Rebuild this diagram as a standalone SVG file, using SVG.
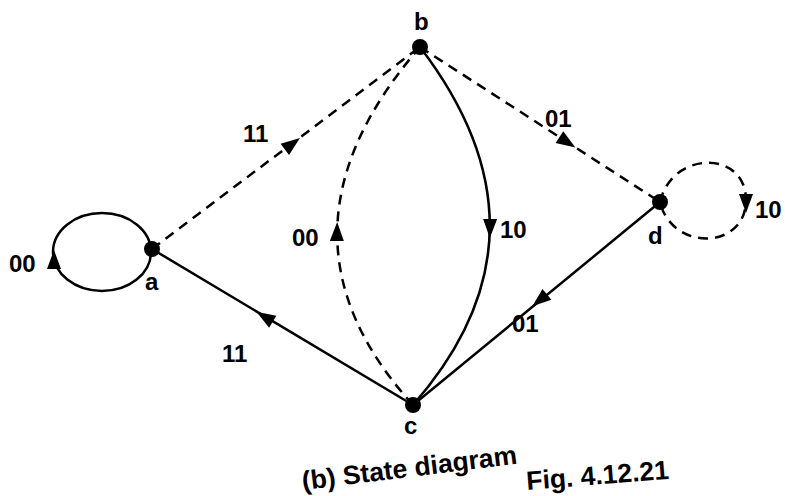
<svg xmlns="http://www.w3.org/2000/svg" width="785" height="496" viewBox="0 0 785 496">
<style>
.e{fill:none;stroke:#000;stroke-width:2.5}
.d{stroke-dasharray:10 7}
.n{fill:#000}
text{font-family:"Liberation Sans",Arial,sans-serif;fill:#000;font-weight:bold}
.l{font-size:24px}
.c{font-size:26.5px}
</style>
<defs>
<path id="ah" d="M10,0 L-9,-7 L-9,7 Z" fill="#000"/>
</defs>
<rect width="785" height="496" fill="#fff"/>
<g id="connectors">
<ellipse class="e" cx="102" cy="252" rx="49" ry="39"/>
<use href="#ah" transform="translate(54,260) rotate(-90)"/>
<line class="e d" x1="152" y1="249" x2="420" y2="47"/>
<use href="#ah" transform="translate(292,144) rotate(-37)"/>
<line class="e" x1="413" y1="405" x2="152" y2="249"/>
<use href="#ah" transform="translate(265,317) rotate(-149)"/>
<line class="e d" x1="420" y1="47" x2="660" y2="202"/>
<use href="#ah" transform="translate(567,142) rotate(33)"/>
<line class="e" x1="660" y1="202" x2="413" y2="405"/>
<use href="#ah" transform="translate(540,300) rotate(140.6)"/>
<path class="e" d="M420,47 Q563,234 413,405"/>
<use href="#ah" transform="translate(490,228) rotate(91)"/>
<path class="e d" d="M413,405 Q258,234 420,47"/>
<use href="#ah" transform="translate(337,232) rotate(-89)"/>
<path class="e d" d="M660,202 C672,150 746,150 746,200 C746,250 672,252 660,202"/>
<use href="#ah" transform="translate(746,203) rotate(90)"/>
</g>
<g id="node-a"><circle class="n" cx="152" cy="249" r="8"/><text class="l" x="145" y="290">a</text></g>
<g id="node-b"><circle class="n" cx="420" cy="47" r="8"/><text class="l" x="414" y="30">b</text></g>
<g id="node-c"><circle class="n" cx="413" cy="405" r="8"/><text class="l" x="404" y="434">c</text></g>
<g id="node-d"><circle class="n" cx="660" cy="202" r="8"/><text class="l" x="648" y="244">d</text></g>
<g id="labels">
<text class="l" x="9" y="272">00</text>
<text class="l" x="243" y="142">11</text>
<text class="l" x="545" y="127">01</text>
<text class="l" x="500" y="238">10</text>
<text class="l" x="292" y="246">00</text>
<text class="l" x="755" y="218">10</text>
<text class="l" x="512" y="332">01</text>
<text class="l" x="222" y="362">11</text>
</g>
<g id="caption">
<text class="c" transform="translate(303,490) rotate(-7)">(b) State diagram</text>
<text class="c" transform="translate(527,490) rotate(-4.5)">Fig. 4.12.21</text>
</g>
</svg>
